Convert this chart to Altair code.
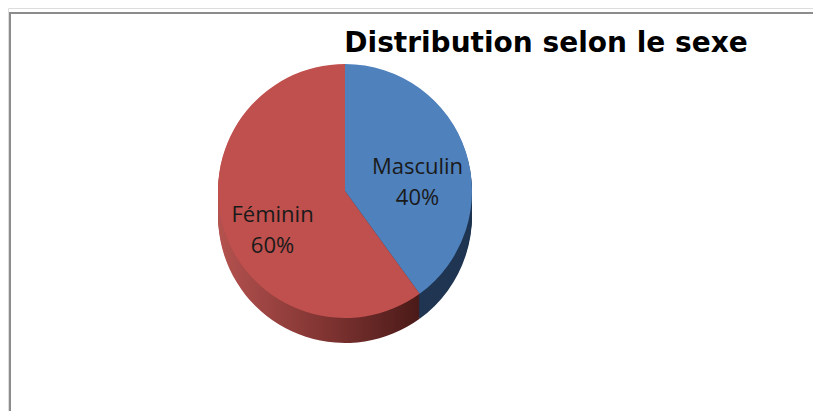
import altair as alt
import pandas as pd
import math

# ---- data ----
categories = ["Masculin", "Féminin"]
values = [40, 60]
order = [1, 2]
title_text = "Distribution selon le sexe"

top_colors = ["#4F81BD", "#C0504D"]
side_colors = ["#1F3552", "#6E2A28"]

df = pd.DataFrame({
    "cat": categories,
    "value": values,
    "order": order,
    "label": [f"{c}\n{v}%" for c, v in zip(categories, values)],
})
total = sum(values)

W, H = 805, 403
CX = 337
CY_TOP = 183
DEPTH = 25
R = 127

theta_scale = alt.Scale(domain=[0, total], range=[0, 2 * math.pi])

stacked = alt.Chart(df).transform_stack(
    stack="value", groupby=[], as_=["v0", "v1"], sort=[alt.SortField("order")]
).transform_calculate(mid="(datum.v0 + datum.v1) / 2")

red_grad = alt.Gradient(
    gradient="linear",
    stops=[
        alt.GradientStop(color="#B4524F", offset=0),
        alt.GradientStop(color="#7E3331", offset=0.55),
        alt.GradientStop(color="#4A1A18", offset=1),
    ],
    x1=0, x2=1, y1=0, y2=0,
)


def slice_layer(i, y, fill):
    return stacked.transform_filter(alt.datum.cat == categories[i]).mark_arc(radius=R).encode(
        theta=alt.Theta("v0:Q", scale=theta_scale),
        theta2="v1:Q",
        x=alt.value(CX), y=alt.value(y), color=alt.value(fill),
    )


layers = []
# cylinder side: stacked copies from bottom to top
for k in range(DEPTH, 0, -2):
    layers.append(slice_layer(0, CY_TOP + k, side_colors[0]))
    layers.append(slice_layer(1, CY_TOP + k, red_grad))
# top surface
layers.append(slice_layer(0, CY_TOP, top_colors[0]))
layers.append(slice_layer(1, CY_TOP, top_colors[1]))

labels = stacked.mark_text(radius=R * 0.6, fontSize=22, lineBreak="\n", font="Open Sans",
                           color="#1a1a1a", lineHeight=31).encode(
    theta=alt.Theta("mid:Q", scale=theta_scale),
    x=alt.value(CX), y=alt.value(CY_TOP),
    text="label:N",
)

title = alt.Chart(pd.DataFrame({"t": [title_text]})).mark_text(
    fontSize=28, fontWeight="bold", font="DejaVu Sans", color="#000000",
    align="center", baseline="alphabetic"
).encode(x=alt.value(538), y=alt.value(44), text="t:N")

border = alt.Chart(pd.DataFrame({"a": [0]})).mark_rule(color="#8C8C8C", strokeWidth=2)
border_top = border.encode(x=alt.value(1), x2=alt.value(W), y=alt.value(5))
border_left = border.encode(x=alt.value(2), y=alt.value(4), y2=alt.value(H))

chart = alt.layer(
    border_top, border_left, *layers, labels, title
).properties(
    width=W, height=H, padding=0, autosize="none"
).configure_view(stroke=None).configure(background="white")

chart.save("out.html", embed_options={"renderer": "svg", "actions": False})
